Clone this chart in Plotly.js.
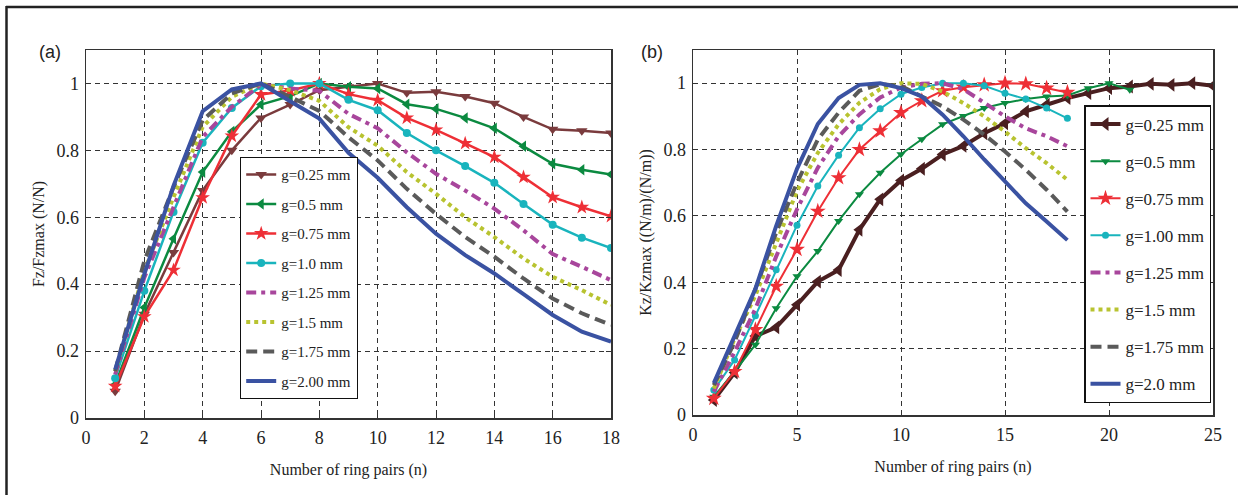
<!DOCTYPE html>
<html>
<head>
<meta charset="utf-8">
<script src="https://cdn.plot.ly/plotly-3.0.1.min.js"></script>
<style>html,body{margin:0;padding:0;background:#fff;}#chart{width:1238px;height:495px;}</style>
</head>
<body>
<div id="chart"></div>
<script>
// ---------- Panel (a) data ----------
const nA = [1,2,3,4,5,6,7,8,9,10,11,12,13,14,15,16,17,18];
const a_g025 = [0.08,0.31,0.495,0.68,0.80,0.897,0.937,0.98,0.99,1.0,0.972,0.975,0.961,0.941,0.90,0.863,0.859,0.852];
const a_g050 = [0.10,0.33,0.536,0.735,0.856,0.937,0.962,1.0,0.99,0.985,0.938,0.924,0.897,0.866,0.812,0.76,0.742,0.728];
const a_g075 = [0.095,0.303,0.442,0.659,0.843,0.967,0.979,1.0,0.968,0.95,0.897,0.861,0.821,0.78,0.72,0.66,0.63,0.603];
const a_g100 = [0.119,0.38,0.616,0.823,0.927,0.992,1.0,1.0,0.951,0.92,0.852,0.80,0.753,0.703,0.64,0.578,0.539,0.508];
const a_g125 = [0.13,0.42,0.63,0.84,0.93,0.997,0.985,0.978,0.909,0.866,0.794,0.73,0.68,0.626,0.561,0.49,0.452,0.412];
const a_g150 = [0.14,0.44,0.66,0.87,0.96,1.0,0.98,0.948,0.869,0.814,0.735,0.67,0.60,0.541,0.477,0.422,0.382,0.338];
const a_g175 = [0.14,0.47,0.69,0.89,0.97,1.0,0.96,0.918,0.839,0.77,0.685,0.61,0.541,0.482,0.417,0.357,0.313,0.278];
const a_g200 = [0.145,0.43,0.694,0.917,0.982,1.0,0.947,0.895,0.793,0.718,0.63,0.551,0.487,0.432,0.37,0.308,0.258,0.228];
const namesA = ['g=0.25 mm','g=0.5 mm','g=0.75 mm','g=1.0 mm','g=1.25 mm','g=1.5 mm','g=1.75 mm','g=2.00 mm'];

// ---------- Panel (b) data ----------
const nB25 = [1,2,3,4,5,6,7,8,9,10,11,12,13,14,15,16,17,18,19,20,21,22,23,24,25];
const nB21 = [1,2,3,4,5,6,7,8,9,10,11,12,13,14,15,16,17,18,19,20,21];
const nB18 = [1,2,3,4,5,6,7,8,9,10,11,12,13,14,15,16,17,18];
const b_g025 = [0.045,0.128,0.238,0.264,0.332,0.402,0.437,0.558,0.65,0.707,0.742,0.785,0.811,0.849,0.879,0.915,0.935,0.955,0.97,0.985,0.99,0.998,0.995,1.0,0.992];
const b_g050 = [0.055,0.131,0.212,0.322,0.418,0.494,0.585,0.665,0.73,0.786,0.831,0.876,0.901,0.925,0.94,0.952,0.96,0.963,0.985,1.0,0.98];
const b_g075 = [0.05,0.131,0.257,0.388,0.499,0.614,0.715,0.80,0.856,0.911,0.947,0.977,0.988,0.995,1.0,0.998,0.985,0.972];
const b_g100 = [0.075,0.166,0.299,0.438,0.572,0.69,0.783,0.866,0.923,0.967,0.987,1.0,1.0,0.992,0.97,0.952,0.925,0.894];
const b_g125 = [0.07,0.19,0.32,0.478,0.62,0.745,0.84,0.906,0.957,0.987,0.998,1.0,0.982,0.94,0.90,0.864,0.84,0.81];
const b_g150 = [0.08,0.23,0.36,0.52,0.675,0.79,0.876,0.941,0.982,1.0,0.998,0.975,0.94,0.90,0.854,0.804,0.759,0.709];
const b_g175 = [0.09,0.22,0.38,0.55,0.70,0.83,0.911,0.977,0.997,0.992,0.96,0.93,0.89,0.845,0.794,0.739,0.679,0.613];
const b_g200 = [0.096,0.24,0.38,0.57,0.742,0.877,0.955,0.995,1.0,0.985,0.96,0.905,0.84,0.77,0.704,0.638,0.583,0.527];
const namesB = ['g=0.25 mm','g=0.5 mm','g=0.75 mm','g=1.00 mm','g=1.25 mm','g=1.5 mm','g=1.75 mm','g=2.0 mm'];

const xTickA = [0,2,4,6,8,10,12,14,16,18];
const xTickB = [0,5,10,15,20,25];
const yTick = [0,0.2,0.4,0.6,0.8,1];

const C = {brownA:'#7a3b3d', brownB:'#4a1f20', green:'#0b8a40', red:'#ee2f36', cyan:'#19b4bd',
           magenta:'#a8469c', yellow:'#b8c330', gray:'#5a5a5a', blue:'#3a52a2'};
const serif = 'Liberation Serif, Times New Roman, serif';

function tr(x, y, name, color, opts, axis, legend, idx) {
  const t = {
    x: x, y: y, name: name, type: 'scatter',
    mode: opts.marker ? 'lines+markers' : 'lines',
    line: {color: color, width: opts.width, dash: opts.dash || 'solid'},
    xaxis: axis === 1 ? 'x' : 'x2', yaxis: axis === 1 ? 'y' : 'y2',
    legend: legend, legendgroup: legend + '_' + idx,
    hoverinfo: 'skip'
  };
  if (opts.marker) t.marker = {symbol: opts.marker, size: opts.size, color: color, line: {width: 0}};
  return t;
}

const dashDot = '10px,5px,4px,5px';
const dotted = '4px,4px';
const dashed = '11px,6px';

const data = [
  tr(nA, a_g025, namesA[0], C.brownA, {marker:'triangle-down', size:10, width:2.5}, 1, 'legend', 0),
  tr(nA, a_g050, namesA[1], C.green, {marker:'triangle-left', size:10, width:2.5}, 1, 'legend', 1),
  tr(nA, a_g075, namesA[2], C.red, {marker:'star', size:11, width:2.5}, 1, 'legend', 2),
  tr(nA, a_g100, namesA[3], C.cyan, {marker:'circle', size:8, width:2.5}, 1, 'legend', 3),
  tr(nA, a_g125, namesA[4], C.magenta, {width:4, dash:dashDot}, 1, 'legend', 4),
  tr(nA, a_g150, namesA[5], C.yellow, {width:4, dash:dotted}, 1, 'legend', 5),
  tr(nA, a_g175, namesA[6], C.gray, {width:4, dash:dashed}, 1, 'legend', 6),
  tr(nA, a_g200, namesA[7], C.blue, {width:4}, 1, 'legend', 7),

  tr(nB25, b_g025, namesB[0], C.brownB, {marker:'triangle-left', size:12, width:4}, 2, 'legend2', 0),
  tr(nB21, b_g050, namesB[1], C.green, {marker:'triangle-down', size:8, width:2}, 2, 'legend2', 1),
  tr(nB18, b_g075, namesB[2], C.red, {marker:'star', size:12, width:2}, 2, 'legend2', 2),
  tr(nB18, b_g100, namesB[3], C.cyan, {marker:'circle', size:7, width:2}, 2, 'legend2', 3),
  tr(nB18, b_g125, namesB[4], C.magenta, {width:4, dash:dashDot}, 2, 'legend2', 4),
  tr(nB18, b_g150, namesB[5], C.yellow, {width:4, dash:dotted}, 2, 'legend2', 5),
  tr(nB18, b_g175, namesB[6], C.gray, {width:4, dash:dashed}, 2, 'legend2', 6),
  tr(nB18, b_g200, namesB[7], C.blue, {width:4}, 2, 'legend2', 7)
];

const W = 1238, H = 495;
const px = v => v / W, py = v => 1 - v / H;

function xax(domain, range, ticks) {
  return {
    domain: domain, range: range, tickvals: ticks, ticktext: ticks.map(String),
    showline: true, linecolor: '#333', linewidth: 1.5, mirror: 'ticks',
    ticks: 'inside', ticklen: 5, tickcolor: '#333', ticklabelstandoff: 3,
    showgrid: true, gridcolor: '#333', gridwidth: 1, griddash: '5px,4px',
    zeroline: false, tickfont: {family: serif, size: 18, color: '#222'},
    title: {text: 'Number of ring pairs (n)', font: {family: serif, size: 16, color: '#222'}, standoff: 16},
    fixedrange: true
  };
}
function yax(domain, title, anchor) {
  return {
    domain: domain, range: [0, 1.1], tickvals: yTick, ticktext: ['0','0.2','0.4','0.6','0.8','1'],
    showline: true, linecolor: '#333', linewidth: 1.5, mirror: 'ticks',
    ticks: 'inside', ticklen: 5, tickcolor: '#333', ticklabelstandoff: 2,
    showgrid: true, gridcolor: '#333', gridwidth: 1, griddash: '5px,4px',
    zeroline: false, tickfont: {family: serif, size: 18, color: '#222'},
    title: {text: title, font: {family: serif, size: 16, color: '#222'}, standoff: 8},
    anchor: anchor, fixedrange: true
  };
}

const layout = {
  width: W, height: H, autosize: false,
  margin: {l: 0, r: 0, t: 0, b: 0, pad: 0},
  paper_bgcolor: '#fff', plot_bgcolor: '#fff',
  showlegend: true,
  xaxis: Object.assign(xax([px(86), px(611)], [0, 18], xTickA), {anchor: 'y'}),
  yaxis: yax([py(418), py(50)], 'Fz/Fzmax (N/N)', 'x'),
  xaxis2: Object.assign(xax([px(693), px(1213)], [0, 25], xTickB), {anchor: 'y2'}),
  yaxis2: yax([py(415), py(50)], 'Kz/Kzmax ((N/m)/(N/m))', 'x2'),
  legend: {
    x: px(240), y: py(157), xanchor: 'left', yanchor: 'top',
    bgcolor: '#fff', bordercolor: '#111', borderwidth: 1.2,
    font: {family: serif, size: 15, color: '#222'},
    traceorder: 'grouped', tracegroupgap: 7, itemclick: false, itemdoubleclick: false
  },
  legend2: {
    x: px(1084), y: py(105), xanchor: 'left', yanchor: 'top',
    bgcolor: '#fff', bordercolor: '#111', borderwidth: 1.5,
    font: {family: serif, size: 17, color: '#222'},
    traceorder: 'grouped', tracegroupgap: 12, itemclick: false, itemdoubleclick: false
  },
  annotations: [
    {text: '(a)', x: px(37), y: py(40), xref: 'paper', yref: 'paper', showarrow: false,
     font: {family: 'Liberation Sans, Arial, sans-serif', size: 18, color: '#222'}},
    {text: '(b)', x: px(652), y: py(40), xref: 'paper', yref: 'paper', showarrow: false,
     font: {family: 'Liberation Sans, Arial, sans-serif', size: 18, color: '#222'}}
  ],
  shapes: [
    {type: 'line', xref: 'paper', yref: 'paper', x0: px(6), x1: 1, y0: py(7), y1: py(7), line: {color: '#222', width: 2.5}},
    {type: 'line', xref: 'paper', yref: 'paper', x0: px(6.5), x1: px(6.5), y0: py(6), y1: 0, line: {color: '#222', width: 2.5}}
  ]
};

Plotly.newPlot('chart', data, layout, {staticPlot: true, displayModeBar: false});
</script>
</body>
</html>
